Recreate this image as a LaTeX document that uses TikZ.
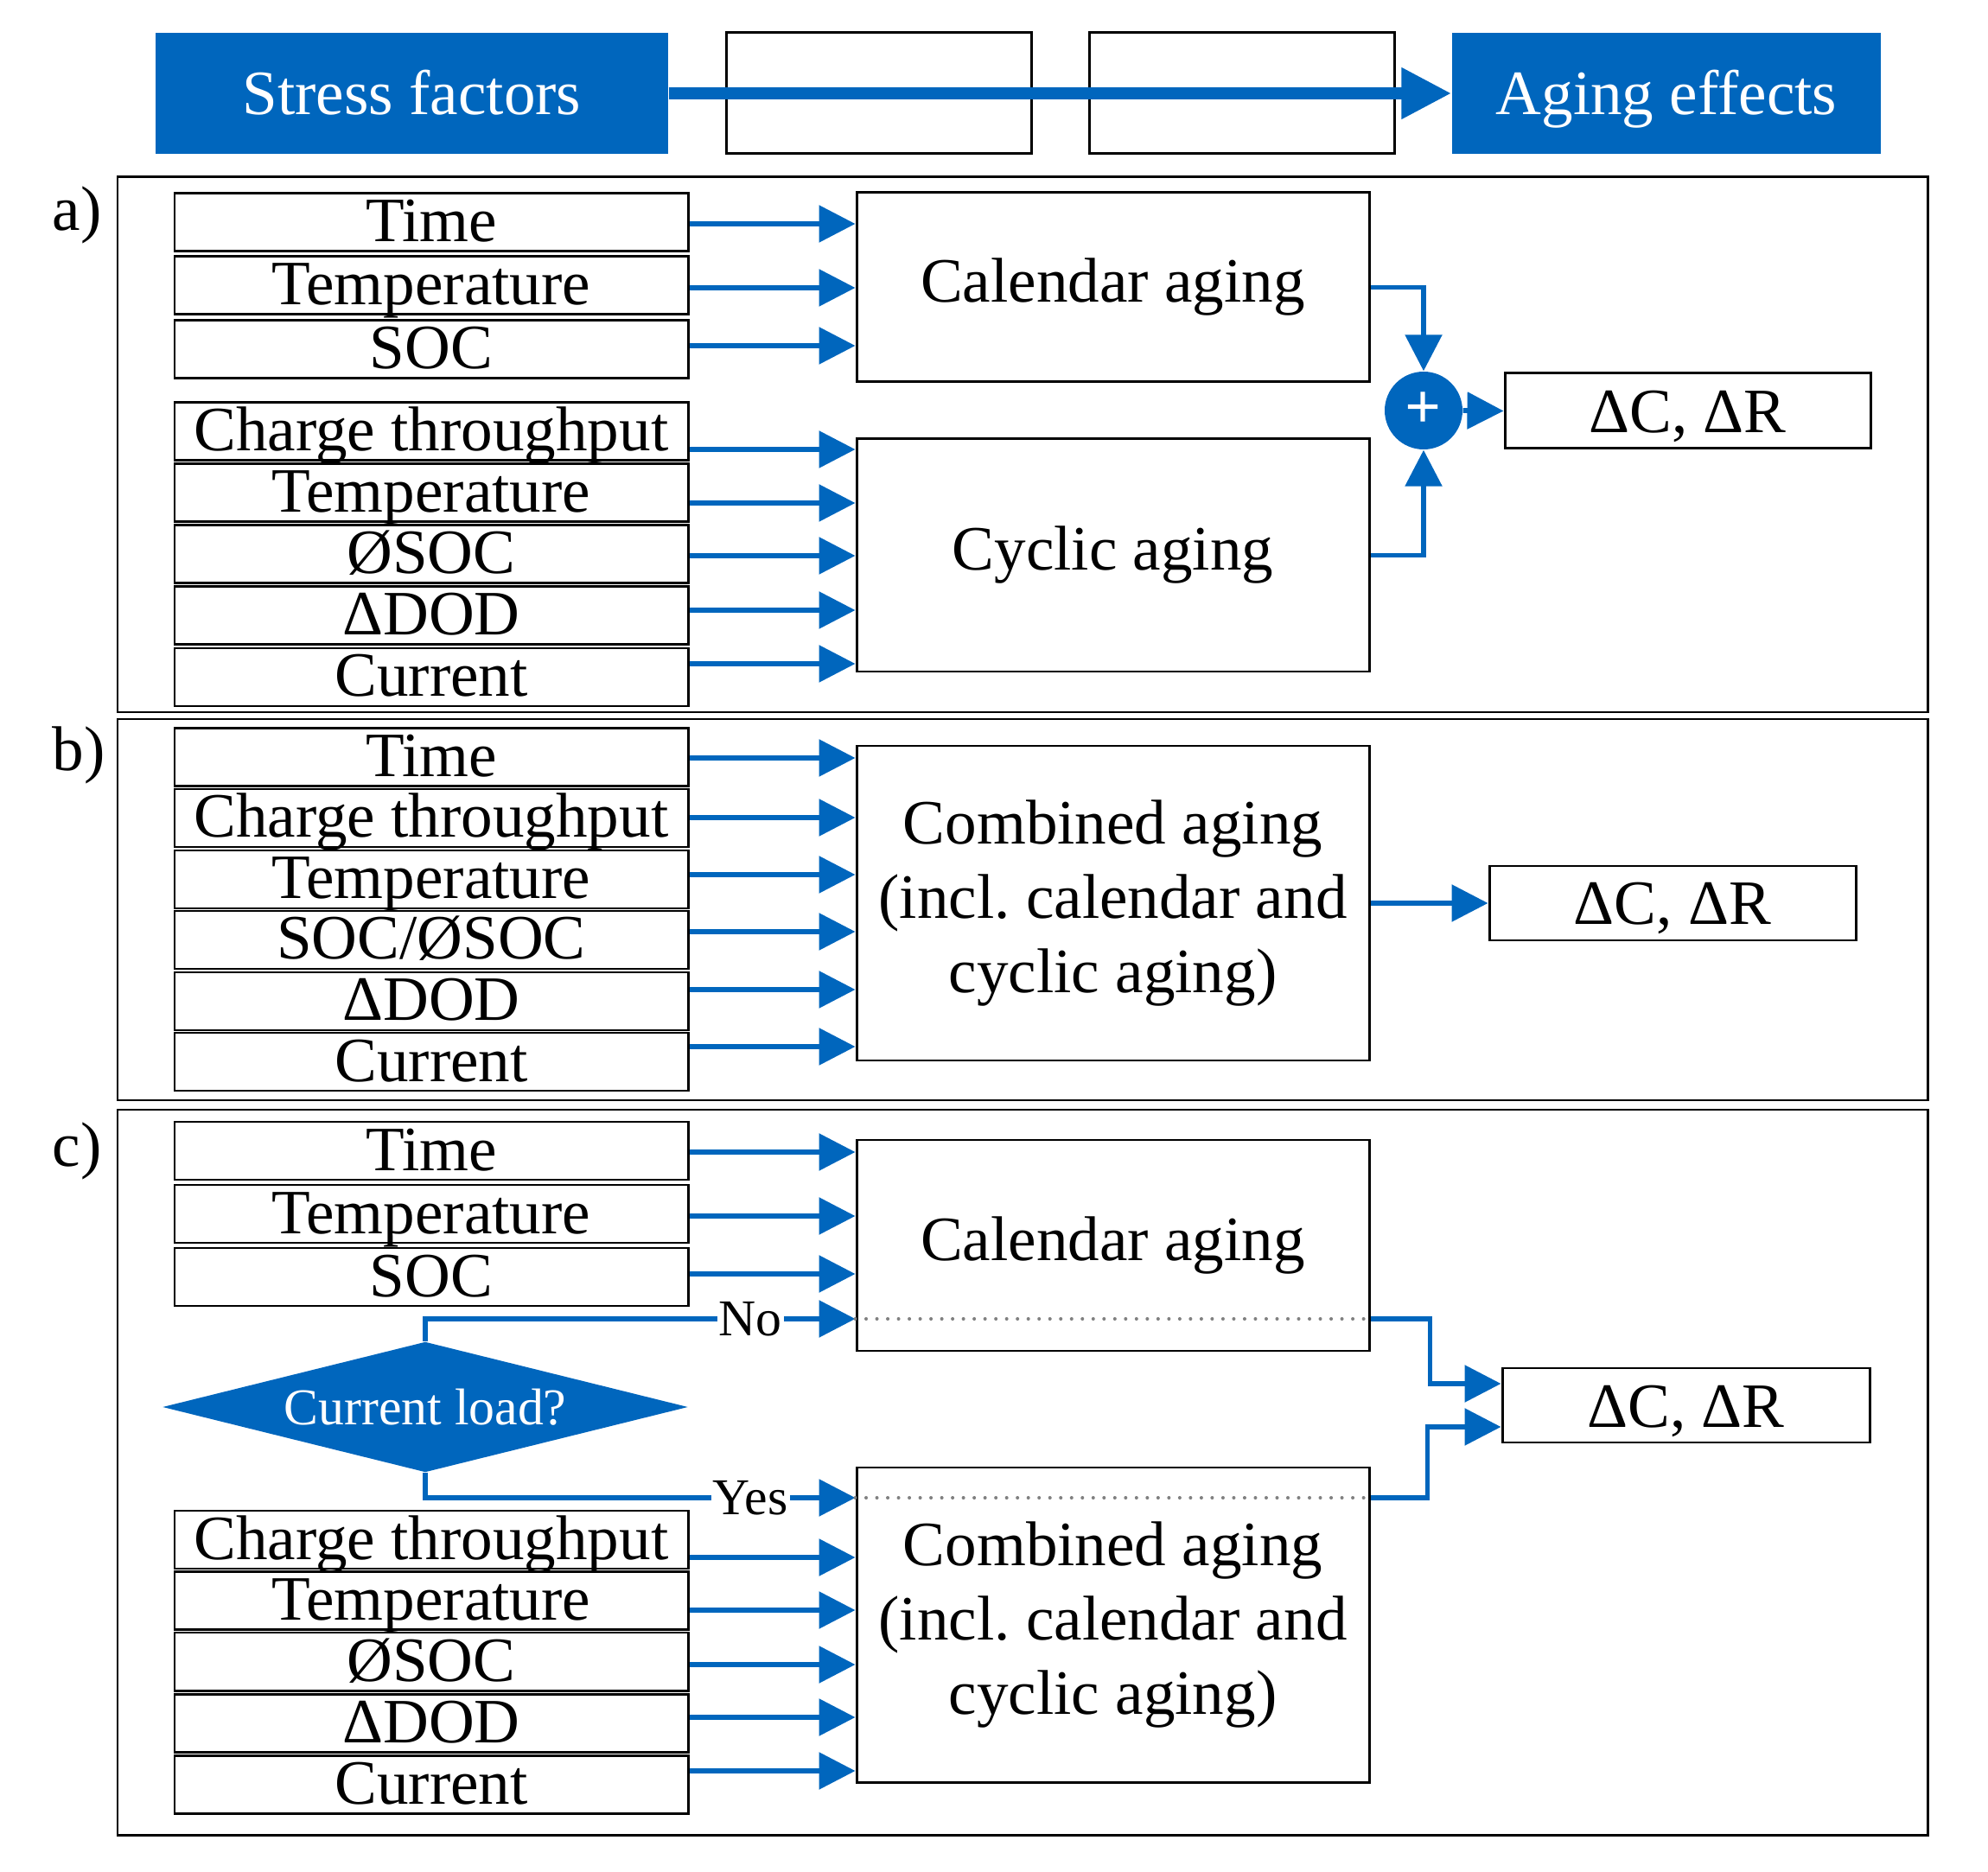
\documentclass[tikz,border=0pt]{standalone}
\usepackage{fontspec}
\setmainfont{Liberation Serif}
\usetikzlibrary{arrows.meta,shapes.geometric,calc}
\definecolor{myblue}{RGB}{0,102,189}
\definecolor{dotgray}{RGB}{128,128,128}
\newcommand\mainsz{\fontsize{20.8}{24.5}\selectfont}
\newcommand\smallsz{\fontsize{17}{20}\selectfont}
\frenchspacing
\tikzset{
  inbox/.style={draw, line width=0.85pt, minimum width=5.94cm, minimum height=0.67cm,
    inner sep=0pt, text height=0.45cm, text depth=0cm, font=\mainsz},
  agebox/.style={draw, line width=0.85pt, minimum width=5.93cm, inner sep=0pt,
    align=center, font=\mainsz},
  outbox/.style={draw, line width=0.85pt, minimum height=0.87cm, inner sep=0pt,
    text height=0.5cm, text depth=0cm, font=\mainsz},
  topbox/.style={minimum height=1.40cm, inner sep=0pt, text height=0.5cm, text depth=0cm, font=\mainsz},
  framebox/.style={draw, line width=0.85pt},
  arr/.style={draw=myblue, line width=1.6pt, -{Triangle[length=0.42cm,width=0.42cm]}},
  dotl/.style={draw=dotgray, line width=1.15pt, dash pattern=on 0pt off 3.56pt, line cap=round},
  lbl/.style={anchor=base west, font=\mainsz, inner sep=0pt},
  yn/.style={fill=white, inner sep=0.6pt, font=\smallsz, text=black}
}
\begin{document}
\begin{tikzpicture}
\useasboundingbox (0,0) rectangle (23,-21.66);

% ---------- header ----------
\node[topbox, fill=myblue, text=white, minimum width=5.93cm] (sf) at (4.765,-1.08) {Stress factors};
\node[topbox, draw, line width=0.85pt, minimum width=3.53cm] (e1) at (10.165,-1.08) {};
\node[topbox, draw, line width=0.85pt, minimum width=3.53cm] (e2) at (14.365,-1.08) {};
\node[topbox, fill=myblue, text=white, minimum width=4.96cm] (ae) at (19.28,-1.08) {Aging effects};
\draw[myblue, line width=0.14cm, -{Triangle[length=0.58cm,width=0.56cm]}] (sf.east) -- (ae.west);

% ---------- section a ----------
\draw[framebox] (1.36,-2.05) rectangle (22.30,-8.24);
\node[lbl] (la) at (0.60,-2.67) {a)};
\node[inbox] (tA1) at (4.99,-2.575) {Time};
\node[inbox] (tA2) at (4.99,-3.305) {Temperature};
\node[inbox] (tA3) at (4.99,-4.045) {SOC};
\node[inbox] (cA1) at (4.99,-4.995) {Charge throughput};
\node[inbox] (cA2) at (4.99,-5.70) {Temperature};
\node[inbox] (cA3) at (4.99,-6.41) {ØSOC};
\node[inbox] (cA4) at (4.99,-7.12) {ΔDOD};
\node[inbox] (cA5) at (4.99,-7.835) {Current};
\node[agebox, minimum height=2.19cm] (calA) at (12.875,-3.325) {Calendar aging};
\node[agebox, minimum height=2.69cm] (cycA) at (12.875,-6.425) {Cyclic aging};
\node[circle, fill=myblue, minimum size=0.9cm, inner sep=0pt, text=white,
      font=\fontsize{21}{21}\selectfont\bfseries] (sum) at (16.47,-4.75) {+};
\node[outbox, minimum width=4.23cm] (outA) at (19.525,-4.755) {ΔC, ΔR};

\coordinate (pa1) at (calA.west |- 0,-2.59);
\coordinate (pa2) at (calA.west |- 0,-3.33);
\coordinate (pa3) at (calA.west |- 0,-4.00);
\draw[arr] (tA1.east |- pa1) -- (pa1);
\draw[arr] (tA2.east |- pa2) -- (pa2);
\draw[arr] (tA3.east |- pa3) -- (pa3);
\coordinate (pb1) at (cycA.west |- 0,-5.20);
\coordinate (pb2) at (cycA.west |- 0,-5.82);
\coordinate (pb3) at (cycA.west |- 0,-6.43);
\coordinate (pb4) at (cycA.west |- 0,-7.06);
\coordinate (pb5) at (cycA.west |- 0,-7.68);
\draw[arr] (cA1.east |- pb1) -- (pb1);
\draw[arr] (cA2.east |- pb2) -- (pb2);
\draw[arr] (cA3.east |- pb3) -- (pb3);
\draw[arr] (cA4.east |- pb4) -- (pb4);
\draw[arr] (cA5.east |- pb5) -- (pb5);
\draw[arr] (calA.east) -| (sum.north);
\draw[arr] (cycA.east) -| (sum.south);
\draw[arr] (sum.east) -- (outA.west);

% ---------- section b ----------
\draw[framebox] (1.36,-8.32) rectangle (22.30,-12.73);
\node[lbl] (lb) at (0.60,-8.92) {b)};
\node[inbox] (tB1) at (4.99,-8.76) {Time};
\node[inbox] (tB2) at (4.99,-9.465) {Charge throughput};
\node[inbox] (tB3) at (4.99,-10.175) {Temperature};
\node[inbox] (tB4) at (4.99,-10.875) {SOC/ØSOC};
\node[inbox] (tB5) at (4.99,-11.585) {ΔDOD};
\node[inbox] (tB6) at (4.99,-12.285) {Current};
\node[agebox, minimum height=3.64cm] (combB) at (12.875,-10.45)
  {Combined aging\\(incl. calendar and\\cyclic aging)};
\node[outbox, minimum width=4.24cm, minimum height=0.86cm] (outB) at (19.35,-10.45) {ΔC, ΔR};
\coordinate (pc1) at (combB.west |- 0,-8.77);
\coordinate (pc2) at (combB.west |- 0,-9.46);
\coordinate (pc3) at (combB.west |- 0,-10.12);
\coordinate (pc4) at (combB.west |- 0,-10.78);
\coordinate (pc5) at (combB.west |- 0,-11.45);
\coordinate (pc6) at (combB.west |- 0,-12.11);
\draw[arr] (tB1.east |- pc1) -- (pc1);
\draw[arr] (tB2.east |- pc2) -- (pc2);
\draw[arr] (tB3.east |- pc3) -- (pc3);
\draw[arr] (tB4.east |- pc4) -- (pc4);
\draw[arr] (tB5.east |- pc5) -- (pc5);
\draw[arr] (tB6.east |- pc6) -- (pc6);
\draw[arr] (combB.east) -- (outB.west);

% ---------- section c ----------
\draw[framebox] (1.36,-12.84) rectangle (22.30,-21.23);
\node[lbl] (lc) at (0.60,-13.50) {c)};
\node[inbox] (tC1) at (4.99,-13.315) {Time};
\node[inbox] (tC2) at (4.99,-14.045) {Temperature};
\node[inbox] (tC3) at (4.99,-14.775) {SOC};
\node[agebox, minimum height=2.44cm] (calC) at (12.875,-14.41) {Calendar aging};
\node[diamond, fill=myblue, text=white, aspect=4.03, minimum width=6.08cm,
      minimum height=1.51cm, inner sep=0pt, font=\smallsz] (dia) at (4.92,-16.28) {Current load?};
\node[outbox, minimum width=4.25cm, minimum height=0.86cm] (outC) at (19.505,-16.26) {ΔC, ΔR};
\node[agebox, minimum height=3.64cm] (combC) at (12.875,-18.80)
  {Combined aging\\(incl. calendar and\\cyclic aging)};
\node[inbox] (cC1) at (4.99,-17.815) {Charge throughput};
\node[inbox] (cC2) at (4.99,-18.52) {Temperature};
\node[inbox] (cC3) at (4.99,-19.225) {ØSOC};
\node[inbox] (cC4) at (4.99,-19.94) {ΔDOD};
\node[inbox] (cC5) at (4.99,-20.65) {Current};

\coordinate (pd1) at (calC.west |- 0,-13.33);
\coordinate (pd2) at (calC.west |- 0,-14.07);
\coordinate (pd3) at (calC.west |- 0,-14.74);
\coordinate (pno) at (calC.west |- 0,-15.26);
\coordinate (pnoE) at (calC.east |- 0,-15.26);
\draw[arr] (tC1.east |- pd1) -- (pd1);
\draw[arr] (tC2.east |- pd2) -- (pd2);
\draw[arr] (tC3.east |- pd3) -- (pd3);
\draw[arr] (dia.north) |- node[yn, pos=0.878] (nolab) {No} (pno);
\draw[dotl] (pno) -- (pnoE);

\coordinate (pyes) at (combC.west |- 0,-17.33);
\coordinate (pyesE) at (combC.east |- 0,-17.33);
\coordinate (pe1) at (combC.west |- 0,-18.02);
\coordinate (pe2) at (combC.west |- 0,-18.63);
\coordinate (pe3) at (combC.west |- 0,-19.26);
\coordinate (pe4) at (combC.west |- 0,-19.87);
\coordinate (pe5) at (combC.west |- 0,-20.49);
\draw[arr] (dia.south) |- node[yn, pos=0.878] (yeslab) {Yes} (pyes);
\draw[dotl] (pyes) -- (pyesE);
\draw[arr] (cC1.east |- pe1) -- (pe1);
\draw[arr] (cC2.east |- pe2) -- (pe2);
\draw[arr] (cC3.east |- pe3) -- (pe3);
\draw[arr] (cC4.east |- pe4) -- (pe4);
\draw[arr] (cC5.east |- pe5) -- (pe5);

\coordinate (po1) at (outC.west |- 0,-16.01);
\coordinate (po2) at (outC.west |- 0,-16.51);
\draw[arr] (pnoE) -- ++(0.69,0) |- (po1);
\draw[arr] (pyesE) -- ++(0.66,0) |- (po2);
\end{tikzpicture}
\end{document}
